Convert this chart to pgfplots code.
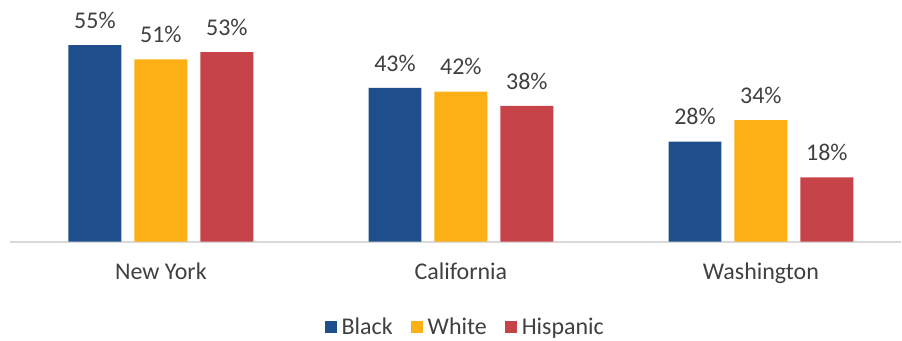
\documentclass[border=0pt]{standalone}
\usepackage{pgfplots}
\pgfplotsset{compat=1.18}
\usepackage{fontspec}
\setmainfont{Carlito}
\definecolor{cblack}{HTML}{1F4E8C}
\definecolor{cwhite}{HTML}{FDB015}
\definecolor{chisp}{HTML}{C7434A}
\definecolor{txt}{HTML}{404040}
\definecolor{axl}{HTML}{D9D9D9}
\begin{document}
\begin{tikzpicture}
\begin{axis}[
  name=ax,
  scale only axis,
  width=892pt, height=242pt,
  ybar=13pt, bar width=53pt,
  xmin=-0.503, xmax=2.467,
  ymin=0, ymax=67.6,
  axis x line*=bottom,
  axis y line=none,
  x axis line style={draw=axl, line width=2pt, -},
  xtick={0,1,2},
  xticklabels={New York,California,Washington},
  major tick length=0pt,
  /pgf/number format/assume math mode=true,
  xticklabel style={font=\fontsize{24}{28}\selectfont, text=txt, yshift=-18pt},
  clip=false,
  nodes near coords={\pgfmathprintnumber{\pgfplotspointmeta}\%},
  nodes near coords style={font=\fontsize{24}{28}\selectfont, text=txt, yshift=13pt},
  legend style={at={(0.511,-0.351)}, anchor=center, draw=none, fill=none,
    legend columns=-1, font=\fontsize{24}{28}\selectfont, text=txt,
    /tikz/every even column/.append style={column sep=16pt},
    /tikz/every odd column/.append style={column sep=3pt}},
  legend image code/.code={\fill[#1] (0pt,-6pt) rectangle (12pt,6pt);},
]
\addplot[fill=cblack, draw=none] coordinates {(0,55) (1,43) (2,28)};
\addplot[fill=cwhite, draw=none] coordinates {(0,51) (1,42) (2,34)};
\addplot[fill=chisp, draw=none] coordinates {(0,53) (1,38) (2,18)};
\legend{Black,White,Hispanic}
\end{axis}
\path (ax.south west) ++(-10pt,-99pt) rectangle (ax.north east);
\end{tikzpicture}
\end{document}
